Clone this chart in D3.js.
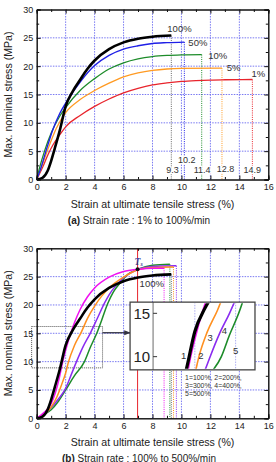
<!DOCTYPE html>
<html><head><meta charset="utf-8">
<script src="https://cdn.jsdelivr.net/npm/d3@7"></script>
<style>
html,body{margin:0;padding:0;background:#fff;}
svg{display:block;font-family:"Liberation Sans",Arial,sans-serif;}
</style></head>
<body>
<svg id="c" width="276" height="462"></svg>
<script>
// ---------- DATA ----------
const xTicks = [0,2,4,6,8,10,12,14,16];
const yTicks = [0,5,10,15,20,25,30];

// (a) strain rate 1% .. 100%/min  [strain %, stress MPa]
const rateA = ["100%","50%","10%","5%","1%"];
const curve100 = [[0,0],[0.4,0.3],[0.75,1.5],[1,3.3],[1.25,5.5],[1.6,8.7],[2,12.9],[2.5,15.6],[3,17.6],[3.5,19.5],[4,21],[5,23],[6,24.2],[7,24.85],[8,25.2],[9.3,25.4]];
const curve50  = [[0,0],[0.3,2.1],[0.65,5.1],[1.1,8.7],[1.6,11.7],[2,13.5],[3,17.2],[4,20.1],[5,21.9],[6,23],[7,23.6],[8,24],[9,24.15],[10.2,24.25]];
const curve10  = [[0,0],[0.2,2.1],[0.55,5.1],[1,8.2],[1.6,11.2],[2,12.7],[3,15.7],[4,17.8],[5,19.5],[6,20.6],[7,21.3],[8,21.7],[9,21.9],[10,22],[11.4,22.05]];
const curve5   = [[0,0],[0.4,2.7],[0.9,6.2],[1.35,9],[2,11.8],[3,14.1],[4,15.7],[5,17],[6,18.1],[7,18.8],[8,19.25],[9,19.5],[10,19.6],[12.8,19.65]];
const curve1   = [[0,0],[0.4,2.1],[0.8,4.5],[1.1,6],[1.6,7.9],[2,9.3],[3,11.3],[4,12.9],[5,14.2],[6,15.3],[7,16.1],[8,16.7],[9,17.05],[10,17.3],[11,17.45],[12,17.55],[13,17.6],[14.9,17.65]];
const seriesA = [curve100, curve50, curve10, curve5, curve1];

// (b) strain rate 100% .. 500%/min
const rateB = ["100%","200%","300%","400%","500%"];
const curve200 = [[0,0],[0.5,1],[1,2.6],[1.3,4.6],[1.55,7],[1.78,9.8],[2,12],[2.35,15],[2.6,16.8],[3,19.2],[3.5,21.4],[4,23],[5,24.9],[6,25.9],[7,26.3],[8,26.5],[8.8,26.5]];
const curve300 = [[0,0],[0.5,0.7],[1,2],[1.4,3.8],[1.7,5.8],[2,8],[2.2,10],[2.6,12.8],[3.1,15.3],[3.5,17.6],[4,19.8],[4.5,21.6],[5,23],[6,24.9],[7,26.2],[8,26.6],[9.45,26.7]];
const curve400 = [[0,0],[0.5,0.7],[1,1.9],[1.5,3.4],[2,5.3],[2.4,7.8],[2.75,10],[3.2,12.6],[3.7,15],[4.2,17.7],[4.7,20.4],[5,21.8],[5.5,23.5],[6,24.8],[7,26.3],[8,26.8],[9.65,26.9]];
const curve500 = [[0,0],[0.5,0.7],[1,1.5],[1.5,3],[2,5],[2.6,7.5],[3.3,10],[3.7,12.5],[4.15,15],[4.5,17.4],[4.9,20.2],[5.3,22.3],[5.8,24],[6.3,25.4],[7,26.3],[8,27],[9.2,27.2]];
const seriesB = [curve100, curve200, curve300, curve400, curve500];
const legendLines = ["1=100%, 2=200%,","3=300%, 4=400%,","5=500%"];
const tsPoint = [6.97, 26.3];
const zoomBox = {x0:-0.35, x1:4.55, y0:8.9, y1:16.2};
const insetTicks = [10,15];

// ---------- STYLE ----------
const colA = ["#000000","#1f1fe6","#1d8c2a","#ff9a22","#e8242c"];
const dropA = ["#666666","#1f1fe6","#1d8c2a","#ff9a22","#e8242c"];
const colB = ["#000000","#f010f0","#ff9020","#8a2cf0","#1d8c2a"];
const dropB = ["#666666","#f010f0","#ff9020","#8a2cf0","#1d8c2a"];
const wA = [2.6,1.4,1.3,1.3,1.3];
const wB = [2.6,1.5,1.5,1.5,1.5];

const svg = d3.select("#c");
const x = d3.scaleLinear().domain([0,16]).range([36.7,268.3]);
const yA = d3.scaleLinear().domain([0,30]).range([179.5,9.5]);
const yB = d3.scaleLinear().domain([0,30]).range([418.3,248.3]);
const TXT = "#222";

function frame(y){
  const g = svg.append("g");
  g.selectAll(".gx").data(xTicks.slice(1,-1)).join("line")
    .attr("x1",d=>x(d)).attr("x2",d=>x(d)).attr("y1",y(0)).attr("y2",y(30))
    .attr("stroke","#6b6bf0").attr("stroke-width",0.9).attr("stroke-dasharray","1.5,1.2");
  g.selectAll(".gy").data(yTicks.slice(1,-1)).join("line")
    .attr("x1",x(0)).attr("x2",x(16)).attr("y1",d=>y(d)).attr("y2",d=>y(d))
    .attr("stroke","#6b6bf0").attr("stroke-width",0.9).attr("stroke-dasharray","1.5,1.2");
  return g;
}
function axes(y, titleY, cap, capY){
  const g = svg.append("g");
  const minorX = d3.range(1,16,2), minorY = d3.range(2.5,30,5);
  const mk = (axis, tr) => g.append("g").attr("transform",tr).call(axis)
      .call(s=>s.select(".domain").attr("stroke","#111").attr("stroke-width",1))
      .call(s=>s.selectAll(".tick line").attr("stroke","#111"))
      .call(s=>s.selectAll("text").attr("fill",TXT).style("font-size","9px").style("font-family","Liberation Sans, Arial, sans-serif"));
  mk(d3.axisBottom(x).tickValues(xTicks).tickSize(-4).tickPadding(4).tickFormat(d3.format("d")), `translate(0,${y(0)})`);
  mk(d3.axisBottom(x).tickValues(minorX).tickSize(-2.5).tickFormat(""), `translate(0,${y(0)})`);
  mk(d3.axisTop(x).tickValues(xTicks).tickSize(-4).tickFormat(""), `translate(0,${y(30)})`);
  mk(d3.axisTop(x).tickValues(minorX).tickSize(-2.5).tickFormat(""), `translate(0,${y(30)})`);
  mk(d3.axisLeft(y).tickValues(yTicks).tickSize(-4).tickPadding(3.5), `translate(${x(0)},0)`);
  mk(d3.axisLeft(y).tickValues(minorY).tickSize(-2.5).tickFormat(""), `translate(${x(0)},0)`);
  mk(d3.axisRight(y).tickValues(yTicks).tickSize(-4).tickFormat(""), `translate(${x(16)},0)`);
  mk(d3.axisRight(y).tickValues(minorY).tickSize(-2.5).tickFormat(""), `translate(${x(16)},0)`);
  g.append("text").attr("x",(x(0)+x(16))/2).attr("y",titleY).attr("text-anchor","middle")
    .attr("fill",TXT).style("font-size","10.6px").text("Strain at ultimate tensile stress (%)");
  const cy = (y(0)+y(30))/2;
  g.append("text").attr("transform",`translate(12.3,${cy}) rotate(-90)`).attr("text-anchor","middle")
    .attr("fill",TXT).style("font-size","10.6px").text("Max. nominal stress (MPa)");
  const t = g.append("text").attr("x",139).attr("y",capY).attr("text-anchor","middle")
    .attr("fill",TXT).style("font-size","10px");
  t.append("tspan").style("font-weight","bold").text(cap[0]);
  t.append("tspan").text(cap[1]);
}

const line = (y) => d3.line().x(d=>x(d[0])).y(d=>y(d[1])).curve(d3.curveMonotoneX);

// ---------- CHART (a) ----------
frame(yA);
const gA = svg.append("g");
seriesA.forEach((s,i)=>{
  const e = s[s.length-1];
  gA.append("line").attr("x1",x(e[0])).attr("x2",x(e[0])).attr("y1",yA(e[1])).attr("y2",yA(0))
    .attr("stroke",dropA[i]).attr("stroke-width",1).attr("stroke-dasharray","1,1.2");
});
const valOff = [[1.3,1.7],[2.3,3.5],[0.5,1.7],[3.5,1.9],[0,1.7]];
seriesA.forEach((s,i)=>{
  const e = s[s.length-1];
  gA.append("text").attr("x",x(e[0])+valOff[i][0]).attr("y",yA(valOff[i][1])+3.3)
    .attr("text-anchor","middle").attr("fill","#333").style("font-size","9px")
    .attr("stroke","#fff").attr("stroke-width",2.5).attr("paint-order","stroke")
    .text(d3.format(".1f")(e[0]));
});
[...seriesA].reverse().forEach((s,k)=>{
  const i = seriesA.length-1-k;
  gA.append("path").attr("d",line(yA)(s)).attr("fill","none")
    .attr("stroke",colA[i]).attr("stroke-width",wA[i]).attr("stroke-linejoin","round");
});
const labOff = [[-4,-4],[4,3.5],[6.5,4],[4.7,3],[-1,-2.7]];
seriesA.forEach((s,i)=>{
  const e = s[s.length-1];
  gA.append("text").attr("x",x(e[0])+labOff[i][0]).attr("y",yA(e[1])+labOff[i][1])
    .attr("fill","#333").style("font-size","9.5px").text(rateA[i]);
});
axes(yA, 208, ["(a)"," Strain rate : 1% to 100%/min"], 223.5);

// ---------- CHART (b) ----------
frame(yB);
const gB = svg.append("g");
seriesB.forEach((s,i)=>{
  const e = s[s.length-1];
  gB.append("line").attr("x1",x(e[0])).attr("x2",x(e[0])).attr("y1",yB(e[1])).attr("y2",yB(0))
    .attr("stroke",dropB[i]).attr("stroke-width",1).attr("stroke-dasharray","1,1.2");
});
gB.append("line").attr("x1",x(tsPoint[0])).attr("x2",x(tsPoint[0])).attr("y1",yB(30)).attr("y2",yB(0))
  .attr("stroke","#e8242c").attr("stroke-width",1);
gB.append("rect").attr("x",x(zoomBox.x0)).attr("y",yB(zoomBox.y1))
  .attr("width",x(zoomBox.x1)-x(zoomBox.x0)).attr("height",yB(zoomBox.y0)-yB(zoomBox.y1))
  .attr("fill","none").attr("stroke","#555").attr("stroke-width",1).attr("stroke-dasharray","1,1");
[...seriesB].reverse().forEach((s,k)=>{
  const i = seriesB.length-1-k;
  gB.append("path").attr("d",line(yB)(s)).attr("fill","none")
    .attr("stroke",colB[i]).attr("stroke-width",wB[i]).attr("stroke-linejoin","round");
});
gB.append("circle").attr("cx",x(tsPoint[0])).attr("cy",yB(tsPoint[1])).attr("r",2).attr("fill","#111");
const ts = gB.append("text").attr("x",x(tsPoint[0])-3).attr("y",yB(tsPoint[1])-4.5)
  .attr("fill","#3a3a98").style("font-family","Liberation Serif, serif").style("font-style","italic")
  .style("font-weight","bold").style("font-size","9.5px");
ts.append("tspan").text("T");
ts.append("tspan").attr("dy",1.5).style("font-size","6px").text("s");
gB.append("text").attr("x",x(7.95)).attr("y",yB(23.2)).attr("text-anchor","middle")
  .attr("fill","#333").style("font-size","9.5px").text("100%");

// inset
const inset = {x0:6.45, x1:15.08, y0:8.55, y1:20.5};
const ix0 = x(inset.x0), ix1 = x(inset.x1), iy0 = yB(inset.y1), iy1 = yB(inset.y0);
svg.append("defs").call(d=>{
  d.append("marker").attr("id","arr").attr("viewBox","0 0 10 10").attr("refX",9).attr("refY",5)
   .attr("markerWidth",5).attr("markerHeight",5).attr("orient","auto")
   .append("path").attr("d","M0,1 L10,5 L0,9 Z").attr("fill","#334");
  d.append("clipPath").attr("id","ic").append("rect")
   .attr("x",ix0+23).attr("y",iy0+1).attr("width",ix1-ix0-24).attr("height",iy1-iy0-2);
});
gB.append("line").attr("x1",x(zoomBox.x1)).attr("x2",ix0).attr("y1",yB(15.1)).attr("y2",yB(15.1))
  .attr("stroke","#334").attr("stroke-width",1.3).attr("marker-end","url(#arr)");
gB.append("rect").attr("x",ix0).attr("y",iy0).attr("width",ix1-ix0).attr("height",iy1-iy0)
  .attr("fill","#fff").attr("stroke","#444").attr("stroke-width",1.3);
const xi = d3.scaleLinear().domain([0,4.95]).range([ix0+24,ix1]);
const yi = d3.scaleLinear().domain([8.48,16.29]).range([iy1,iy0]);
const ig = gB.append("g").attr("clip-path","url(#ic)");
[2,4].forEach(v=>ig.append("line").attr("x1",xi(v)).attr("x2",xi(v)).attr("y1",iy0).attr("y2",iy1)
  .attr("stroke","#9a9af0").attr("stroke-width",0.8).attr("stroke-dasharray","1.5,1.2"));
const lineI = d3.line().x(d=>xi(d[0])).y(d=>yi(d[1])).curve(d3.curveMonotoneX);
[...seriesB].reverse().forEach((s,k)=>{
  const i = seriesB.length-1-k;
  ig.append("path").attr("d",lineI(s)).attr("fill","none")
    .attr("stroke",colB[i]).attr("stroke-width",i===0?3.2:1.6);
});
gB.append("line").attr("x1",ix0+23).attr("x2",ix0+23).attr("y1",iy0).attr("y2",iy1).attr("stroke","#444").attr("stroke-width",0.8);
insetTicks.forEach(v=>{
  gB.append("line").attr("x1",ix0+23).attr("x2",ix0+27).attr("y1",yi(v)).attr("y2",yi(v)).attr("stroke","#333");
  gB.append("text").attr("x",ix0+20).attr("y",yi(v)+5.5).attr("text-anchor","end")
    .attr("fill","#222").style("font-size","15px").text(v);
});
const numPos = [[1.45,10.15],[2.3,10.15],[2.75,12.2],[3.45,13],[4.0,10.75]];
numPos.forEach((p,i)=>gB.append("text").attr("x",xi(p[0])).attr("y",yi(p[1])+3.5).attr("text-anchor","middle")
  .attr("fill","#333").style("font-size","9.5px").text(i+1));
legendLines.forEach((t,k)=>gB.append("text").attr("x",x(10.25)).attr("y",iy1+10.5+k*7.9)
  .attr("fill","#333").style("font-size","6.9px").text(t));

axes(yB, 445.5, ["(b)"," Strain rate : 100% to 500%/min"], 461.5);
</script>
</body></html>
